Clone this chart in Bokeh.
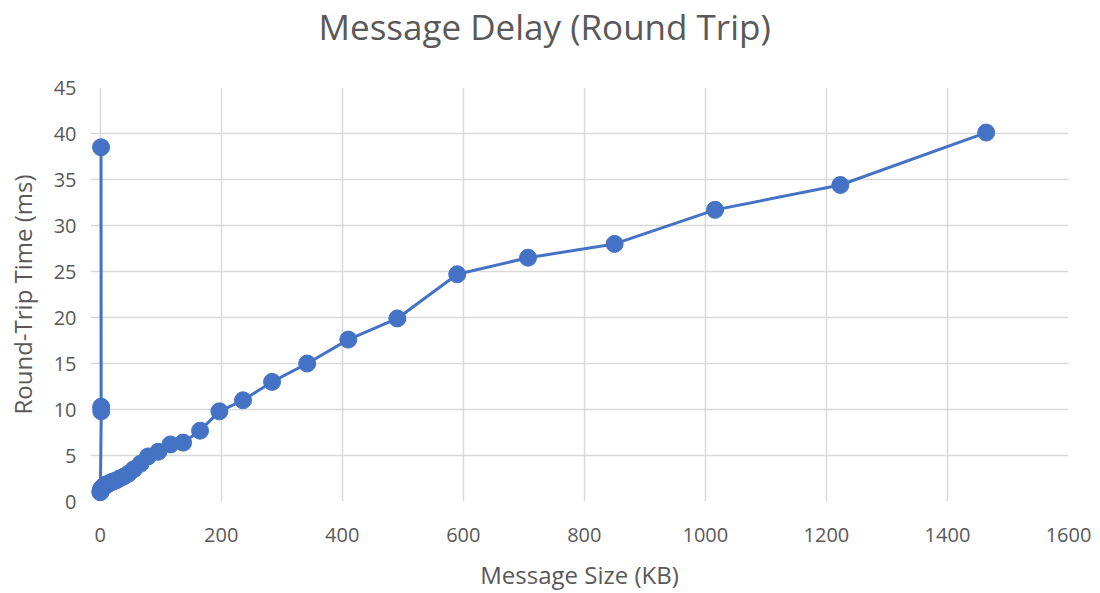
from bokeh.plotting import figure
from bokeh.models import Range1d, FixedTicker, Title
from bokeh.embed import file_html
from bokeh.resources import INLINE

# Message size (KB) and measured round-trip time (ms), in send order
size_kb = [1.4, 1.6, 1.8, 0.3, 0.6, 1.0, 1.5, 2.1, 3.0, 4.3, 5.2, 6.2, 7.5, 9.0,
           10.8, 12.9, 15.5, 18.6, 22.3, 26.8, 32.1, 38.5, 46.2, 55.5, 66.6,
           79, 96, 116, 137, 165, 197, 236, 284, 342, 410, 491, 590, 707, 850,
           1016, 1223, 1464]
rtt_ms = [38.5, 10.3, 9.8, 1.0, 1.1, 1.2, 1.3, 1.4, 1.5, 1.55, 1.6, 1.65, 1.7, 1.8,
          1.85, 1.9, 2.0, 2.1, 2.2, 2.3, 2.5, 2.7, 3.0, 3.5, 4.1,
          4.9, 5.4, 6.2, 6.4, 7.7, 9.8, 11.0, 13.0, 15.0, 17.6, 19.9, 24.7, 26.5, 28.0,
          31.7, 34.4, 40.1]

x_ticks = [0, 200, 400, 600, 800, 1000, 1200, 1400, 1600]
y_ticks = [0, 5, 10, 15, 20, 25, 30, 35, 40, 45]

FONT = "Open Sans"
TEXT = "#595959"
GRID = "#d9d9d9"
BLUE = "#4472c4"

p = figure(width=1100, height=593, output_backend="svg", toolbar_location=None,
           x_range=Range1d(-16, 1600), y_range=Range1d(0, 45),
           min_border_left=90, min_border_right=32, min_border_top=86,
           min_border_bottom=92, background_fill_color="white",
           border_fill_color="white", outline_line_color=None)

# empty spacer between the plot area and the chart title
p.add_layout(Title(text=" ", text_font_size="1px", standoff=35), "above")
p.add_layout(Title(text="Message Delay (Round Trip)", align="left", offset=228,
                   text_font=FONT, text_font_size="35px", text_font_style="normal",
                   text_color=TEXT, standoff=0), "above")

p.line(size_kb, rtt_ms, line_color=BLUE, line_width=3)
p.scatter(size_kb, rtt_ms, size=17, fill_color=BLUE, line_color=BLUE)

for ax, ticks in ((p.xaxis[0], x_ticks), (p.yaxis[0], y_ticks)):
    ax.ticker = FixedTicker(ticks=ticks)
    ax.axis_line_color = None
    ax.major_tick_line_color = None
    ax.minor_tick_line_color = None
    ax.major_tick_out = 0
    ax.major_tick_in = 0
    ax.minor_tick_out = 0
    ax.minor_tick_in = 0
    ax.major_label_text_font = FONT
    ax.major_label_text_font_size = "20px"
    ax.major_label_text_color = TEXT
    ax.axis_label_text_font = FONT
    ax.axis_label_text_font_size = "24px"
    ax.axis_label_text_font_style = "normal"
    ax.axis_label_text_color = TEXT

p.xaxis.axis_label = "Message Size (KB)"
p.yaxis.axis_label = "Round-Trip Time (ms)"
p.xaxis.major_label_standoff = 26
p.xaxis.axis_label_standoff = 13
p.yaxis.major_label_standoff = 14
p.yaxis.axis_label_standoff = 12

p.xgrid.ticker = FixedTicker(ticks=x_ticks)
p.ygrid.ticker = FixedTicker(ticks=y_ticks)
for g in (p.xgrid[0], p.ygrid[0]):
    g.grid_line_color = GRID
    g.grid_line_width = 1.5

open("out.html", "w").write(file_html(p, INLINE))
